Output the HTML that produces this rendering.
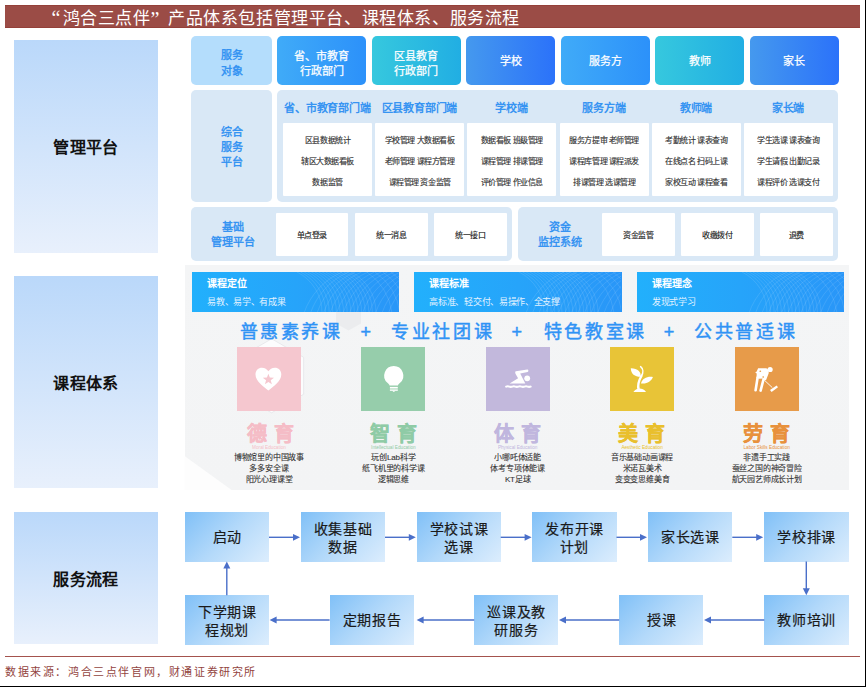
<!DOCTYPE html>
<html lang="zh-CN">
<head>
<meta charset="utf-8">
<style>
*{margin:0;padding:0;box-sizing:border-box}
html,body{width:866px;height:687px;overflow:hidden;background:#fff}
body{position:relative;font-family:"Liberation Sans",sans-serif;color:#222}
.a{position:absolute}
.c{display:flex;align-items:center;justify-content:center;text-align:center;flex-direction:column}
.serif{font-family:"Liberation Serif",serif}
#bdr-r{left:865px;top:0;width:1px;height:687px;background:#000}
#bdr-b{left:0;top:686px;width:866px;height:1px;background:#000}
#title{left:5px;top:5px;width:855px;height:23px;background:#9b4c46;border-top:1px solid #944039;border-bottom:1px solid #944039}
.tt{position:absolute;top:3.5px;font-size:17px;line-height:18px;letter-spacing:0.6px;color:#fff;white-space:nowrap}
.lbl{left:14px;width:144px;background:linear-gradient(180deg,#bad8fa 0%,#e8f0fc 100%);font-weight:bold;font-size:16px;color:#111;letter-spacing:0.3px}
/* section1 */
.sq{border-radius:5px}
.r1{top:36px;height:49px;width:89px;color:#fff;font-size:11px;line-height:14.6px;padding-top:6px;-webkit-text-stroke:0.25px #fff}
.g1{background:linear-gradient(90deg,#40abf8,#2c91fa)}
.g2{background:linear-gradient(90deg,#36c8de,#21aee3)}
.g3{background:linear-gradient(90deg,#4599ee,#2b72fa)}
.pale{background:#d9e8f6;border-radius:5px}
.blu{color:#3091f2;font-size:11px;line-height:15.2px;-webkit-text-stroke:0.4px #3091f2}
.hd{top:100.5px;width:89px;height:15px;font-size:11px;line-height:15px;color:#3794f2;font-weight:bold;text-align:center;letter-spacing:-0.2px;white-space:nowrap}
.wb{background:#fff;border-radius:1px}
.w2{top:122.5px;height:73.5px;width:89.2px;font-size:8px;letter-spacing:-0.45px;color:#333;text-align:center;-webkit-text-stroke:0.15px #333}
.w2 div{position:absolute;left:0;width:100%;line-height:10px;white-space:nowrap}
.w3{top:212.5px;height:43px;width:72.8px;font-size:8px;letter-spacing:-0.5px;color:#222;-webkit-text-stroke:0.15px #222}
/* section2 */
.bb{top:271.5px;height:40.5px;background:linear-gradient(90deg,#22b0fc 0%,#26a4fa 50%,#2996f8 100%);overflow:hidden}
.bb svg{position:absolute;left:0;top:0}
.bb .t1{position:absolute;left:15.5px;top:5.8px;font-size:10px;line-height:14px;color:#fff;font-weight:bold}
.bb .t2{position:absolute;left:15.5px;top:24.3px;font-size:9px;letter-spacing:-0.3px;line-height:12px;color:#e3f2ff;white-space:nowrap}
.icn{top:347px;width:64px;height:64px}
.big{top:321.5px;font-size:18px;line-height:20px;color:#3093f5;letter-spacing:2.65px;white-space:nowrap;-webkit-text-stroke:0.45px #3093f5}
.yu{top:421.5px;width:124px;text-align:center;font-size:20px;line-height:24px;font-weight:bold;white-space:nowrap;letter-spacing:0.7px;-webkit-text-stroke:0.4px currentColor}
.en{top:443.5px;width:124px;text-align:center;font-size:4.7px;line-height:7px;white-space:nowrap}
.ds{top:452px;width:124px;text-align:center;font-size:8px;letter-spacing:-0.2px;line-height:11px;color:#333;white-space:nowrap;-webkit-text-stroke:0.1px #333}
/* section3 */
.fb{height:49.3px;width:84.3px;background:linear-gradient(135deg,#80c0f7 0%,#b3d9fa 50%,#dcedfd 100%);font-size:14px;letter-spacing:0.7px;text-indent:0.7px;line-height:17.6px;color:#1a1a1a;padding-top:1px;-webkit-text-stroke:0.2px #1a1a1a}
.fb2{padding-top:3.5px}
</style>
</head>
<body>
<svg width="0" height="0" style="position:absolute">
<defs>
<symbol id="mesh" viewBox="0 0 207 41" width="207" height="41">
<path fill="none" stroke="#fff" stroke-opacity="0.2" stroke-width="0.55" d="M105.0 0A45.3 45.3 0 0 1 130.0 41 M108.6 0A45.3 45.3 0 0 1 133.6 41 M112.2 0A45.3 45.3 0 0 1 137.2 41 M115.8 0A45.3 45.3 0 0 1 140.8 41 M119.4 0A45.3 45.3 0 0 1 144.4 41 M123.0 0A45.3 45.3 0 0 1 148.0 41 M126.6 0A45.3 45.3 0 0 1 151.6 41 M130.2 0A45.3 45.3 0 0 1 155.2 41 M133.8 0A45.3 45.3 0 0 1 158.8 41 M137.4 0A45.3 45.3 0 0 1 162.4 41 M141.0 0A45.3 45.3 0 0 1 166.0 41 M144.6 0A45.3 45.3 0 0 1 169.6 41 M148.2 0A45.3 45.3 0 0 1 173.2 41 M151.8 0A45.3 45.3 0 0 1 176.8 41 M155.4 0A45.3 45.3 0 0 1 180.4 41 M159.0 0A45.3 45.3 0 0 1 184.0 41 M150.0 0A70 70 0 0 0 112.0 41 M156.5 0A70 70 0 0 0 118.5 41 M163.0 0A70 70 0 0 0 125.0 41 M169.5 0A70 70 0 0 0 131.5 41 M176.0 0A70 70 0 0 0 138.0 41 M182.5 0A70 70 0 0 0 144.5 41 M189.0 0A70 70 0 0 0 151.0 41 M195.5 0A70 70 0 0 0 157.5 41 M202.0 0A70 70 0 0 0 164.0 41 M208.5 0A70 70 0 0 0 170.5 41 M215.0 0A70 70 0 0 0 177.0 41 M221.5 0A70 70 0 0 0 183.5 41 M228.0 0A70 70 0 0 0 190.0 41 M234.5 0A70 70 0 0 0 196.5 41 M175.0 0A60 60 0 0 1 200.0 41 M183.0 0A60 60 0 0 1 208.0 41 M191.0 0A60 60 0 0 1 216.0 41 M199.0 0A60 60 0 0 1 224.0 41 M207.0 0A60 60 0 0 1 232.0 41 M215.0 0A60 60 0 0 1 240.0 41"/>
</symbol>
</defs>
</svg>
<div id="bdr-r" class="a"></div>
<div id="bdr-b" class="a"></div>

<div id="title" class="a">
<span class="tt serif" style="left:46.5px;top:1px;font-size:20px;line-height:22px">“</span>
<span class="tt serif" style="left:57.5px">鸿合三点伴</span>
<span class="tt serif" style="left:145.5px;top:1.5px;font-size:20px;line-height:22px">”</span>
<span class="tt serif" style="left:163px">产品体系包括管理平台、课程体系、服务流程</span>
</div>

<!-- Section labels -->
<div class="a c lbl" style="top:40px;height:212.5px">管理平台</div>
<div class="a c lbl" style="top:276px;height:212px">课程体系</div>
<div class="a c lbl" style="top:512px;height:132.3px">服务流程</div>

<!-- Section 1 row 1 -->
<div class="a c blu" style="left:191px;top:36px;width:81px;height:49px;background:#b4ddfc;border-radius:5px;padding-top:6px">服务<br>对象</div>
<div class="a c sq r1 g1" style="left:277px">省、市教育<br>行政部门</div>
<div class="a c sq r1 g2" style="left:371.5px">区县教育<br>行政部门</div>
<div class="a c sq r1 g3" style="left:466px;padding-top:2px">学校</div>
<div class="a c sq r1 g1" style="left:560.5px;padding-top:2px">服务方</div>
<div class="a c sq r1 g2" style="left:655px;padding-top:2px">教师</div>
<div class="a c sq r1 g3" style="left:749.5px;padding-top:2px">家长</div>

<!-- Section 1 row 2 -->
<div class="a c pale blu" style="left:191px;top:90px;width:81px;height:111.5px;padding-top:4px">综合<br>服务<br>平台</div>
<div class="a pale" style="left:277px;top:90px;width:561px;height:111.5px"></div>
<div class="a hd" style="left:283px">省、市教育部门端</div>
<div class="a hd" style="left:375px">区县教育部门端</div>
<div class="a hd" style="left:467.2px">学校端</div>
<div class="a hd" style="left:559.6px">服务方端</div>
<div class="a hd" style="left:651.6px">教师端</div>
<div class="a hd" style="left:743.5px">家长端</div>

<div class="a wb w2" style="left:283px"><div style="top:13.5px">区县数据统计</div><div style="top:34.5px">辖区大数据看板</div><div style="top:55.5px">数据监管</div></div>
<div class="a wb w2" style="left:375px"><div style="top:13.5px">学校管理 大数据看板</div><div style="top:34.5px">老师管理 课程方管理</div><div style="top:55.5px">课程管理 资金监管</div></div>
<div class="a wb w2" style="left:467.2px"><div style="top:13.5px">数据看板 班级管理</div><div style="top:34.5px">课程管理 排课管理</div><div style="top:55.5px">评价管理 作业信息</div></div>
<div class="a wb w2" style="left:559.6px"><div style="top:13.5px">服务方提审 老师管理</div><div style="top:34.5px">课程库管理 课程派发</div><div style="top:55.5px">排课管理 选课管理</div></div>
<div class="a wb w2" style="left:651.6px"><div style="top:13.5px">考勤统计 课表查询</div><div style="top:34.5px">在线点名 扫码上课</div><div style="top:55.5px">家校互动 课程查看</div></div>
<div class="a wb w2" style="left:743.5px"><div style="top:13.5px">学生选课 课表查询</div><div style="top:34.5px">学生请假 出勤记录</div><div style="top:55.5px">课程评价 选课支付</div></div>

<!-- Section 1 row 3 -->
<div class="a pale" style="left:191px;top:207px;width:320.7px;height:53.5px"></div>
<div class="a c blu" style="left:191px;top:207px;width:84px;height:53.5px;padding-top:3px">基础<br>管理平台</div>
<div class="a c wb w3" style="left:275.6px">单点登录</div>
<div class="a c wb w3" style="left:355px">统一消息</div>
<div class="a c wb w3" style="left:434px">统一接口</div>
<div class="a pale" style="left:517.7px;top:207px;width:320.3px;height:53.5px"></div>
<div class="a c blu" style="left:517.7px;top:207px;width:84px;height:53.5px;padding-top:3px">资金<br>监控系统</div>
<div class="a c wb w3" style="left:602px">资金监管</div>
<div class="a c wb w3" style="left:681px">收缴拨付</div>
<div class="a c wb w3" style="left:760px">退费</div>

<!-- Section 2 -->
<div class="a" style="left:184.6px;top:265.3px;width:664px;height:225px;background:linear-gradient(180deg,#f4f5f6,#f3f4f5)"></div>
<svg class="a" style="left:0;top:0" width="866" height="500" viewBox="0 0 866 500">
<polygon points="348.5,301.8 361,309 361,323.4 348.5,330.6 336,323.4 336,309" fill="#ebecee"/>
<polygon points="271.6,338.8 303.6,357.3 303.6,394.3 271.6,412.8 239.6,394.3 239.6,357.3" fill="#fcfcfd" stroke="#e4e5e8" stroke-width="0.8"/>
<polygon points="184.6,456 232,490.3 184.6,490.3" fill="#fdfdfd"/>
</svg>
<div class="a bb" style="left:191.8px;width:207.1px"><svg width="207" height="41"><use href="#mesh"/></svg><div class="t1">课程定位</div><div class="t2">易教、易学、有成果</div></div>
<div class="a bb" style="left:413.9px;width:207.8px"><svg width="207" height="41"><use href="#mesh"/></svg><div class="t1">课程标准</div><div class="t2">高标准、轻交付、易操作、全支撑</div></div>
<div class="a bb" style="left:636.5px;width:207.4px"><svg width="207" height="41"><use href="#mesh"/></svg><div class="t1">课程理念</div><div class="t2">发现式学习</div></div>

<div class="a big" style="left:239.5px">普惠素养课</div>
<div class="a big" style="left:360.5px">+</div>
<div class="a big" style="left:391px">专业社团课</div>
<div class="a big" style="left:511.6px">+</div>
<div class="a big" style="left:543.7px">特色教室课</div>
<div class="a big" style="left:663.7px">+</div>
<div class="a big" style="left:694.1px">公共普适课</div>

<!-- icons -->
<svg class="a icn" style="left:237px;background:#f5c7cf" viewBox="0 0 64 64">
<path fill="#fff" d="M31.4 43.6 C26.5 39.3 18.5 34.2 18.5 27.4 C18.5 23.4 21.4 20.7 24.9 20.7 C27.9 20.7 30 22.3 31.4 24.2 C32.8 22.3 34.9 20.7 37.9 20.7 C41.4 20.7 44.3 23.4 44.3 27.4 C44.3 34.2 36.3 39.3 31.4 43.6 Z"/>
<path fill="#f5c7cf" d="M31.40 26.70 L32.84 30.62 L37.01 30.78 L33.73 33.36 L34.87 37.37 L31.40 35.05 L27.93 37.37 L29.07 33.36 L25.79 30.78 L29.96 30.62 Z"/>
</svg>
<svg class="a icn" style="left:361.3px;background:#96cdab" viewBox="0 0 64 64">
<path fill="#fff" d="M32.75 18.9 A9.7 9.7 0 0 1 39.1 35.8 C37.9 36.8 37.1 37.6 37 38.6 L28.5 38.6 C28.4 37.6 27.6 36.8 26.4 35.8 A9.7 9.7 0 0 1 32.75 18.9 Z"/>
<rect x="28.9" y="39.9" width="7.9" height="1.3" fill="#fff"/>
<rect x="28.9" y="41.2" width="7.9" height="1.4" fill="#fff" fill-opacity="0.5"/>
<rect x="28.9" y="42.6" width="7.9" height="1.2" fill="#fff"/>
<path fill="#fff" d="M31.1 43.8 h3.4 l-1.7 1.3 z"/>
</svg>
<svg class="a icn" style="left:485.6px;background:#c2b8dc" viewBox="0 0 64 64">
<path fill="#fff" d="M29.9 24.3 L41.3 22.6 C42.6 22.5 42.8 24.9 41.6 25.1 L34.2 26.6 L39.3 36.4 L23.6 36.4 L32.1 31.2 L29.6 26.9 C29 25.8 29 24.5 29.9 24.3 Z"/>
<circle cx="41.2" cy="31.3" r="2.9" fill="#fff"/>
<path fill="none" stroke="#fff" stroke-width="2.1" stroke-linecap="round" d="M20.2 39.6 q1.525 -0.65 3.05 0 t3.05 0 t3.05 0 t3.05 0 t3.05 0 t3.05 0 t3.05 0 t3.05 0"/>
</svg>
<svg class="a icn" style="left:610px;background:#e8c437" viewBox="0 0 64 64">
<path fill="#fff" d="M20.8 21.3 C27.5 21.2 31.5 24.8 30.4 29.8 C24.8 29.8 20.9 27.2 20.8 21.3 Z"/>
<path fill="#fff" d="M42.9 30 C37.2 29.2 32.3 31.4 31 36.4 C36.6 37.2 41.2 34.6 42.9 30 Z"/>
<path fill="none" stroke="#fff" stroke-width="1.5" stroke-linecap="round" d="M30.6 19.6 C33.2 21.6 33.6 25.4 31.4 29"/>
<path fill="none" stroke="#fff" stroke-width="2.4" stroke-linecap="round" d="M31.4 29 C29.2 32.8 27.2 37 28.6 42.4"/>
<path fill="#fff" d="M23.4 44.9 C25.4 42.5 27.5 41.6 29.6 41.6 C31.8 41.6 34.1 42.5 36.1 44.9 Z"/>
</svg>
<svg class="a icn" style="left:734.5px;background:#e79b4a" viewBox="0 0 64 64">
<circle cx="35.1" cy="22.5" r="2.6" fill="#fff"/>
<path fill="#fff" d="M23.1 21.3 L30.9 21.3 C32.5 21.3 34 23.4 33.7 26.3 L31.2 32.8 L29.2 33.8 L28 31.5 L24.5 31.8 L21.5 31 L21.7 26.4 L20.2 25.5 L21.7 24.5 Z"/>
<path fill="none" stroke="#fff" stroke-width="2.6" stroke-linecap="round" d="M22.6 30.5 L20.6 43.3 M28.6 32 L25.6 43.6"/>
<ellipse cx="25.3" cy="24.2" rx="0.9" ry="0.8" fill="#e79b4a"/><ellipse cx="28.2" cy="30" rx="0.9" ry="0.8" fill="#e79b4a"/>
<path fill="none" stroke="#fff" stroke-width="0.9" d="M29.6 33.4 L37.3 40.6"/>
<path fill="#fff" d="M35 42.9 L41.6 38.6 L43 40.3 L36.6 44.9 Z"/>
</svg>

<div class="a yu" style="left:208.5px;color:#f5bcc6">德 育</div>
<div class="a yu" style="left:331.4px;color:#8fcba6">智 育</div>
<div class="a yu" style="left:455.7px;color:#c0b6de">体 育</div>
<div class="a yu" style="left:580.1px;color:#e9bf2c">美 育</div>
<div class="a yu" style="left:704.7px;color:#e8913c">劳 育</div>

<div class="a en" style="left:207px;color:#f5bcc6">Moral Education</div>
<div class="a en" style="left:331.4px;color:#8fcba6">Intellectual Education</div>
<div class="a en" style="left:455.7px;color:#c0b6de">Physical Education</div>
<div class="a en" style="left:580.1px;color:#e9bf2c">Aesthetic Education</div>
<div class="a en" style="left:704.7px;color:#e8913c">Labor Skills Education</div>

<div class="a ds" style="left:207px">博物馆里的中国故事<br>多多安全课<br>阳光心理课堂</div>
<div class="a ds" style="left:331.4px">玩创Lab科学<br>纸飞机里的科学课<br>逻辑思维</div>
<div class="a ds" style="left:455.7px">小哪吒体适能<br>体考专项体能课<br>KT足球</div>
<div class="a ds" style="left:580.1px">音乐基础动画课程<br>米诺瓦美术<br>变变变思维美育</div>
<div class="a ds" style="left:704.7px">非遗手工实践<br>蚕丝之国的神奇冒险<br>航天园艺师成长计划</div>

<!-- Section 3 -->
<div class="a c fb" style="left:185px;top:512.3px">启动</div>
<div class="a c fb fb2" style="left:300.7px;top:512.3px">收集基础<br>数据</div>
<div class="a c fb fb2" style="left:416.5px;top:512.3px">学校试课<br>选课</div>
<div class="a c fb fb2" style="left:532.3px;top:512.3px">发布开课<br>计划</div>
<div class="a c fb" style="left:648px;top:512.3px">家长选课</div>
<div class="a c fb" style="left:764.3px;top:512.3px">学校排课</div>

<div class="a c fb fb2" style="left:185px;top:595.3px">下学期课<br>程规划</div>
<div class="a c fb" style="left:329.6px;top:595.3px">定期报告</div>
<div class="a c fb fb2" style="left:474.2px;top:595.3px">巡课及教<br>研服务</div>
<div class="a c fb" style="left:619.2px;top:595.3px">授课</div>
<div class="a c fb" style="left:764.3px;top:595.3px">教师培训</div>

<svg class="a" style="left:0;top:0" width="866" height="687" viewBox="0 0 866 687">
<g stroke="#4a6fc9" stroke-width="1.4" fill="none">
<line x1="269" y1="537.3" x2="295" y2="537.3"/>
<line x1="385" y1="537.3" x2="411" y2="537.3"/>
<line x1="500.7" y1="537.3" x2="527" y2="537.3"/>
<line x1="616.5" y1="537.3" x2="642.5" y2="537.3"/>
<line x1="732.3" y1="537.3" x2="758.5" y2="537.3"/>
<line x1="806.3" y1="561.6" x2="806.3" y2="589"/>
<line x1="764.3" y1="620" x2="709" y2="620"/>
<line x1="619.2" y1="620" x2="564" y2="620"/>
<line x1="474.2" y1="620" x2="420" y2="620"/>
<line x1="329.6" y1="620" x2="275" y2="620"/>
<line x1="226.8" y1="595.3" x2="226.8" y2="567"/>
</g>
<g fill="#4a6fc9">
<path d="M300 537.3 l-7 -3.4 v6.8z"/>
<path d="M415.8 537.3 l-7 -3.4 v6.8z"/>
<path d="M531.6 537.3 l-7 -3.4 v6.8z"/>
<path d="M647 537.3 l-7 -3.4 v6.8z"/>
<path d="M763.2 537.3 l-7 -3.4 v6.8z"/>
<path d="M806.3 595.3 l-3.5 -7 h7z"/>
<path d="M704 620 l7 -3.4 v6.8z"/>
<path d="M559 620 l7 -3.4 v6.8z"/>
<path d="M416.6 620 l7 -3.4 v6.8z"/>
<path d="M269.6 620 l7 -3.4 v6.8z"/>
<path d="M226.8 561.6 l-3.5 7 h7z"/>
</g>
</svg>

<!-- Footer -->
<div class="a" style="left:5px;top:656px;width:855px;height:1px;background:#a4524d"></div>
<div class="a serif" style="left:5px;top:663.5px;font-size:11px;line-height:16px;color:#934440;letter-spacing:1.6px;white-space:nowrap">数据来源：鸿合三点伴官网，财通证券研究所</div>
</body>
</html>
